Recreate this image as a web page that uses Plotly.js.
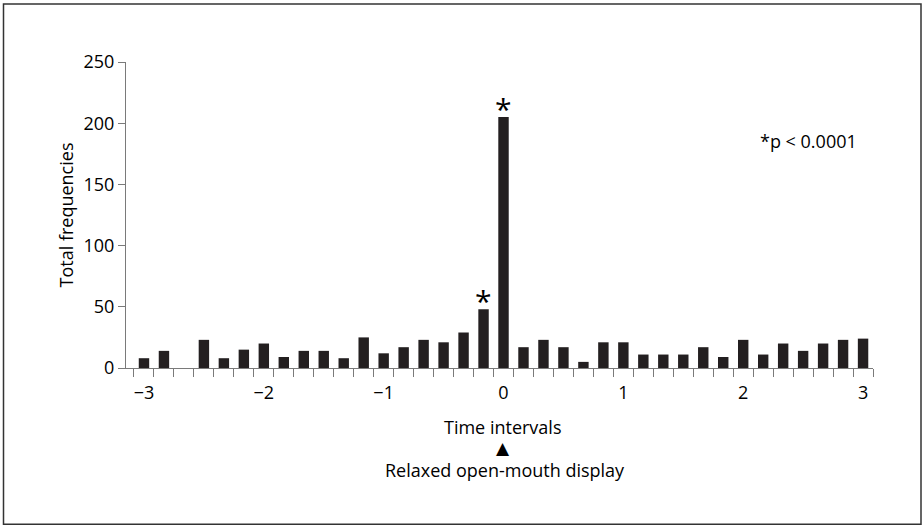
<!DOCTYPE html>
<html>
<head>
<meta charset="utf-8">
<script src="https://cdn.plot.ly/plotly-3.0.1.min.js"></script>
<style>
  html, body { margin: 0; padding: 0; background: #fff; }
  #chart { width: 924px; height: 527px; }
</style>
</head>
<body>
<div id="chart"></div>
<script>
// Time intervals in sixths of a unit, from -3 to +3
const intervalSixths = [-18,-17,-16,-15,-14,-13,-12,-11,-10,-9,-8,-7,-6,-5,-4,-3,-2,-1,0,
                        1,2,3,4,5,6,7,8,9,10,11,12,13,14,15,16,17,18];
// Total frequencies per interval
const frequencies = [8,14,0,23,8,15,20,9,14,14,8,25,12,17,23,21,29,48,205,
                     17,23,17,5,21,21,11,11,11,17,9,23,11,20,14,20,23,24];
// Significance markers
const significance = ['','','','','','','','','','','','','','','','','','*','*',
                      '','','','','','','','','','','','','','','','','',''];
const xTickVals = [-3,-2,-1,0,1,2,3];
const xTickText = ['\u22123','\u22122','\u22121','0','1','2','3'];
const yTickVals = [0,50,100,150,200,250];

const xs = intervalSixths.map(s => s / 6);
const FONT = '"Open Sans", "Noto Sans", sans-serif';
const FS = 18;
const ink = '#231f20';
const axisCol = '#7a7a7a';

const trace = {
  type: 'bar',
  x: xs,
  y: frequencies,
  width: 0.087,
  marker: { color: ink, line: { width: 0 } },
  hoverinfo: 'x+y'
};

const annotations = [];
xs.forEach((x, i) => {
  if (significance[i]) {
    annotations.push({
      x: x, y: frequencies[i], xref: 'x', yref: 'y',
      text: significance[i], showarrow: false,
      yanchor: 'bottom', yshift: -14,
      font: { family: FONT, size: 30, color: '#000' }
    });
  }
});
annotations.push(
  { xref: 'paper', yref: 'paper', x: (808 - 126) / 747, y: (368.5 - 141.5) / 306.5,
    text: '*p < 0.0001', showarrow: false, xanchor: 'center', yanchor: 'middle',
    font: { family: FONT, size: FS, color: '#000' } },
  { xref: 'paper', yref: 'paper', x: (503 - 126) / 747, y: (368.5 - 428) / 306.5,
    text: 'Time intervals', showarrow: false, xanchor: 'center', yanchor: 'middle',
    font: { family: FONT, size: FS, color: '#000' } },
  { xref: 'paper', yref: 'paper', x: (503 - 126) / 747, y: (368.5 - 449) / 306.5,
    text: '\u25B2', showarrow: false, xanchor: 'center', yanchor: 'middle',
    font: { family: '"DejaVu Sans", sans-serif', size: 17, color: '#000' } },
  { xref: 'paper', yref: 'paper', x: (505 - 126) / 747, y: (368.5 - 471) / 306.5,
    text: 'Relaxed open-mouth display', showarrow: false, xanchor: 'center', yanchor: 'middle',
    font: { family: FONT, size: FS, color: '#000' } }
);

const layout = {
  width: 924, height: 527,
  margin: { l: 126, r: 51, t: 62, b: 158.5 },
  paper_bgcolor: '#fff', plot_bgcolor: '#fff',
  showlegend: false,
  font: { family: FONT, size: FS, color: '#000' },
  xaxis: {
    range: [-3.15, 3.083],
    tickmode: 'array', tickvals: xTickVals, ticktext: xTickText,
    ticks: '', ticklabelstandoff: 8,
    showline: true, linecolor: axisCol, linewidth: 1,
    showgrid: false, zeroline: false,
    tickfont: { family: FONT, size: FS, color: '#000' },
    minor: { tickmode: 'linear', tick0: -3 - 1/12, dtick: 1/6, ticks: 'outside',
             ticklen: 8, tickwidth: 1, tickcolor: axisCol, showgrid: false }
  },
  yaxis: {
    range: [0, 250],
    tickmode: 'array', tickvals: yTickVals,
    ticks: 'outside', ticklen: 7, tickwidth: 1, tickcolor: axisCol,
    showline: true, linecolor: axisCol, linewidth: 1,
    showgrid: false, zeroline: false,
    tickfont: { family: FONT, size: FS, color: '#000' },
    title: { text: 'Total frequencies', font: { family: FONT, size: FS, color: '#000' }, standoff: 5 }
  },
  annotations: annotations,
  shapes: [{
    type: 'rect', xref: 'paper', yref: 'paper',
    x0: (3.5 - 126) / 747, x1: (921 - 126) / 747,
    y0: (368.5 - 525) / 306.5, y1: (368.5 - 4) / 306.5,
    line: { color: '#333', width: 1.5 }, fillcolor: 'rgba(0,0,0,0)', layer: 'below'
  }]
};

Plotly.newPlot('chart', [trace], layout, { displayModeBar: false, staticPlot: true });
</script>
</body>
</html>
